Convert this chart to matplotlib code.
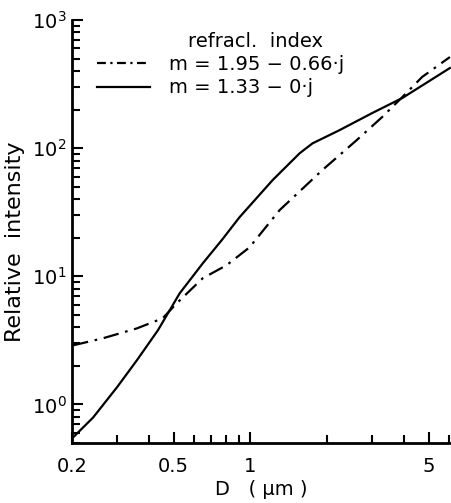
import matplotlib
matplotlib.use("Agg")
import matplotlib.pyplot as plt
from matplotlib.ticker import FixedLocator, NullFormatter, LogLocator, FixedFormatter
from matplotlib.lines import Line2D

# data
d_absorb = [0.2018, 0.264, 0.359, 0.453, 0.514, 0.650, 0.806, 0.991, 1.30, 1.91, 2.60, 3.28, 3.93, 4.70, 6.04]
i_absorb = [2.89, 3.28, 3.92, 4.70, 6.15, 9.65, 12.2, 16.8, 32.8, 67.3, 115, 175, 250, 359, 514]

d_water = [0.2018, 0.242, 0.300, 0.359, 0.434, 0.470, 0.528, 0.650, 0.771, 0.906, 1.22, 1.56, 1.75, 2.23, 3.00, 3.93, 4.87, 6.04]
i_water = [0.552, 0.791, 1.36, 2.21, 3.79, 4.96, 7.36, 12.6, 19.1, 28.9, 56.2, 91.4, 109, 138, 188, 246, 322, 422]

labels = ["m = 1.95 \u2212 0.66\u00b7j", "m = 1.33 \u2212 0\u00b7j"]
legend_title = "refracl.  index"
x_major = [0.2, 0.5, 1, 5]
x_major_labels = ["0.2", "0.5", "1", "5"]
x_minor = [0.3, 0.4, 0.6, 0.7, 0.8, 0.9, 2, 3, 4, 6]

plt.rcParams['font.family'] = ['DejaVu Sans']
plt.rcParams['mathtext.fontset'] = 'dejavusans'

W, H = 451, 503
fig = plt.figure(figsize=(W / 100, H / 100), dpi=100)
ax = fig.add_axes([72 / W, 1 - 443 / H, (W - 72) / W, (443 - 20) / H])

ax.plot(d_absorb, i_absorb, color='black', lw=1.6, linestyle=(0, (7, 3, 1.2, 3)))
ax.plot(d_water, i_water, color='black', lw=1.6, linestyle='-')

ax.set_xscale('log')
ax.set_yscale('log')
ax.set_xlim(0.2, 6.1)
ax.set_ylim(0.5, 1000)

ax.spines['top'].set_visible(False)
ax.spines['right'].set_visible(False)
ax.spines['left'].set_linewidth(2)
ax.spines['bottom'].set_linewidth(2)

ax.xaxis.set_major_locator(FixedLocator(x_major))
ax.xaxis.set_major_formatter(FixedFormatter(x_major_labels))
ax.xaxis.set_minor_locator(FixedLocator(x_minor))
ax.xaxis.set_minor_formatter(NullFormatter())
ax.yaxis.set_major_locator(LogLocator(base=10, numticks=10))
ax.yaxis.set_minor_locator(LogLocator(base=10, subs=range(2, 10), numticks=10))
ax.yaxis.set_minor_formatter(NullFormatter())

ax.tick_params(which='both', direction='in', width=1.5, labelsize=14)
ax.tick_params(which='major', length=8)
ax.tick_params(which='minor', length=6)
ax.tick_params(axis='x', pad=10)
ax.tick_params(axis='y', pad=4)

ax.set_xlabel("D   ( \u03bcm )", fontsize=14, labelpad=3)
fig.text(15 / W, 1 - 242 / H, "Relative  intensity", rotation=90, fontsize=16,
         ha='center', va='center')

handles = [Line2D([], [], color='black', lw=1.6, linestyle=(0, (4, 2, 1, 2))),
           Line2D([], [], color='black', lw=1.6)]
ax.legend(handles, labels, loc='center left', frameon=False, fontsize=14,
          bbox_to_anchor=((97 - 72) / (W - 72), (443 - 76) / 423),
          borderpad=0, borderaxespad=0, handlelength=2.7, handletextpad=1.0,
          labelspacing=0.25)
ax.text((255 - 72) / (W - 72), (443 - 41) / 423, legend_title, transform=ax.transAxes,
        ha='center', va='center', fontsize=14)

fig.savefig("out.png", dpi=100)
